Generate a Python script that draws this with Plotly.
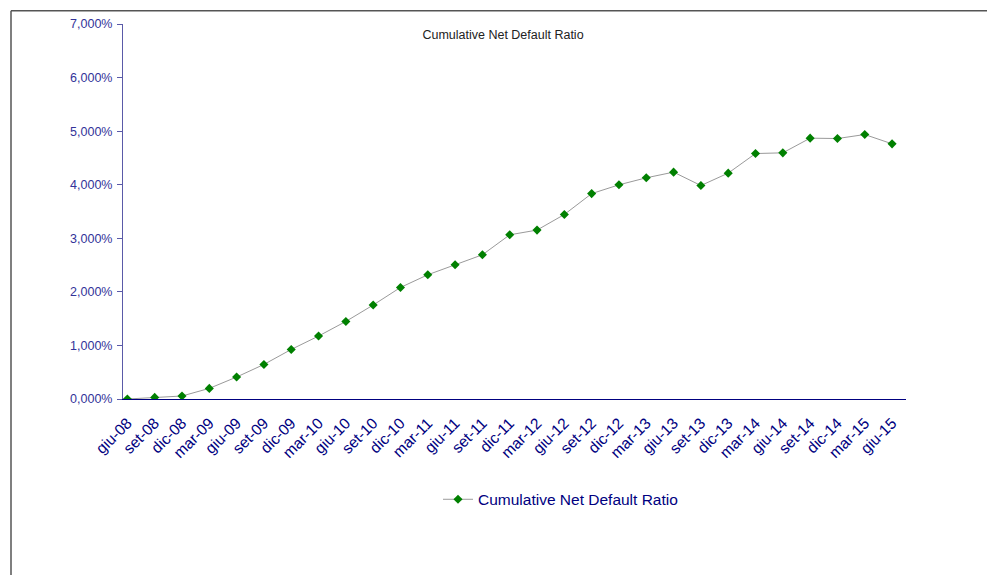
import plotly.graph_objects as go

# Quarterly reporting dates (Italian month abbreviations)
periods = [
    "giu-08", "set-08", "dic-08", "mar-09", "giu-09", "set-09", "dic-09",
    "mar-10", "giu-10", "set-10", "dic-10", "mar-11", "giu-11", "set-11",
    "dic-11", "mar-12", "giu-12", "set-12", "dic-12", "mar-13", "giu-13",
    "set-13", "dic-13", "mar-14", "giu-14", "set-14", "dic-14", "mar-15",
    "giu-15",
]

# Cumulative net default ratio, in percent
cum_net_default = [
    0.000, 0.030, 0.056, 0.198, 0.410, 0.645, 0.925,
    1.175, 1.448, 1.754, 2.082, 2.319, 2.506, 2.692,
    3.065, 3.153, 3.444, 3.834, 3.998, 4.129, 4.235,
    3.985, 4.216, 4.582, 4.595, 4.869, 4.862, 4.937,
    4.763,
]

y_ticks = [0, 1, 2, 3, 4, 5, 6, 7]
y_tick_labels = [f"{v:.3f}".replace(".", ",") + "%" for v in y_ticks]

series_name = "Cumulative Net Default Ratio"
FONT = "Liberation Sans, Arial, sans-serif"

fig = go.Figure()
fig.add_trace(go.Scatter(
    x=list(range(len(periods))),
    y=cum_net_default,
    mode="lines+markers",
    name=series_name,
    line=dict(color="#9a9a9a", width=1),
    marker=dict(symbol="diamond", size=7, color="#008000",
                line=dict(width=0)),
))

W, H = 987, 575
L, R, T, B = 123, 81, 24, 176
pw = W - L - R
ph = H - T - B

fig.update_layout(
    width=W,
    height=H,
    margin=dict(l=L, r=R, t=T, b=B, pad=0),
    paper_bgcolor="white",
    plot_bgcolor="white",
    font=dict(family=FONT, color="#000080"),
    title=dict(
        text=series_name,
        x=503 / W,
        xanchor="center",
        y=1 - 35 / H,
        yanchor="middle",
        font=dict(size=12.5, color="#222222", family=FONT),
    ),
    xaxis=dict(
        tickmode="array",
        tickvals=list(range(len(periods))),
        ticktext=periods,
        range=[-0.16, 28.51],
        tickangle=-45,
        tickfont=dict(size=15.5, color="#000080", family=FONT),
        showgrid=False,
        zeroline=False,
        showline=True,
        linecolor="#000080",
        linewidth=1,
        ticks="",
        ticklabelstandoff=8,
    ),
    yaxis=dict(
        range=[0, 7],
        tickmode="array",
        tickvals=y_ticks,
        ticktext=y_tick_labels,
        tickfont=dict(size=12.5, color="#333399", family=FONT),
        showgrid=False,
        zeroline=False,
        showline=True,
        linecolor="#5a5aa8",
        linewidth=1,
        ticks="outside",
        ticklen=5,
        tickcolor="#5a5aa8",
        ticklabelstandoff=2,
    ),
    showlegend=True,
    legend=dict(
        orientation="h",
        x=(438 - L) / pw,
        xanchor="left",
        y=(399.3 - 500) / ph,
        yanchor="middle",
        font=dict(size=15.5, color="#000080", family=FONT),
        itemwidth=30,
        bgcolor="rgba(0,0,0,0)",
    ),
)

# Chart-area frame (top and left edges)
top_y = (H - B - 10.7) / ph
left_x = (11 - L) / pw
fig.add_shape(type="line", xref="paper", yref="paper",
              x0=left_x, x1=(W + 5 - L) / pw, y0=top_y, y1=top_y,
              line=dict(color="#555555", width=1.5))
fig.add_shape(type="line", xref="paper", yref="paper",
              x0=left_x, x1=left_x, y0=top_y, y1=-(B + 5) / ph,
              line=dict(color="#555555", width=1.5))

fig.write_html("out.html")
